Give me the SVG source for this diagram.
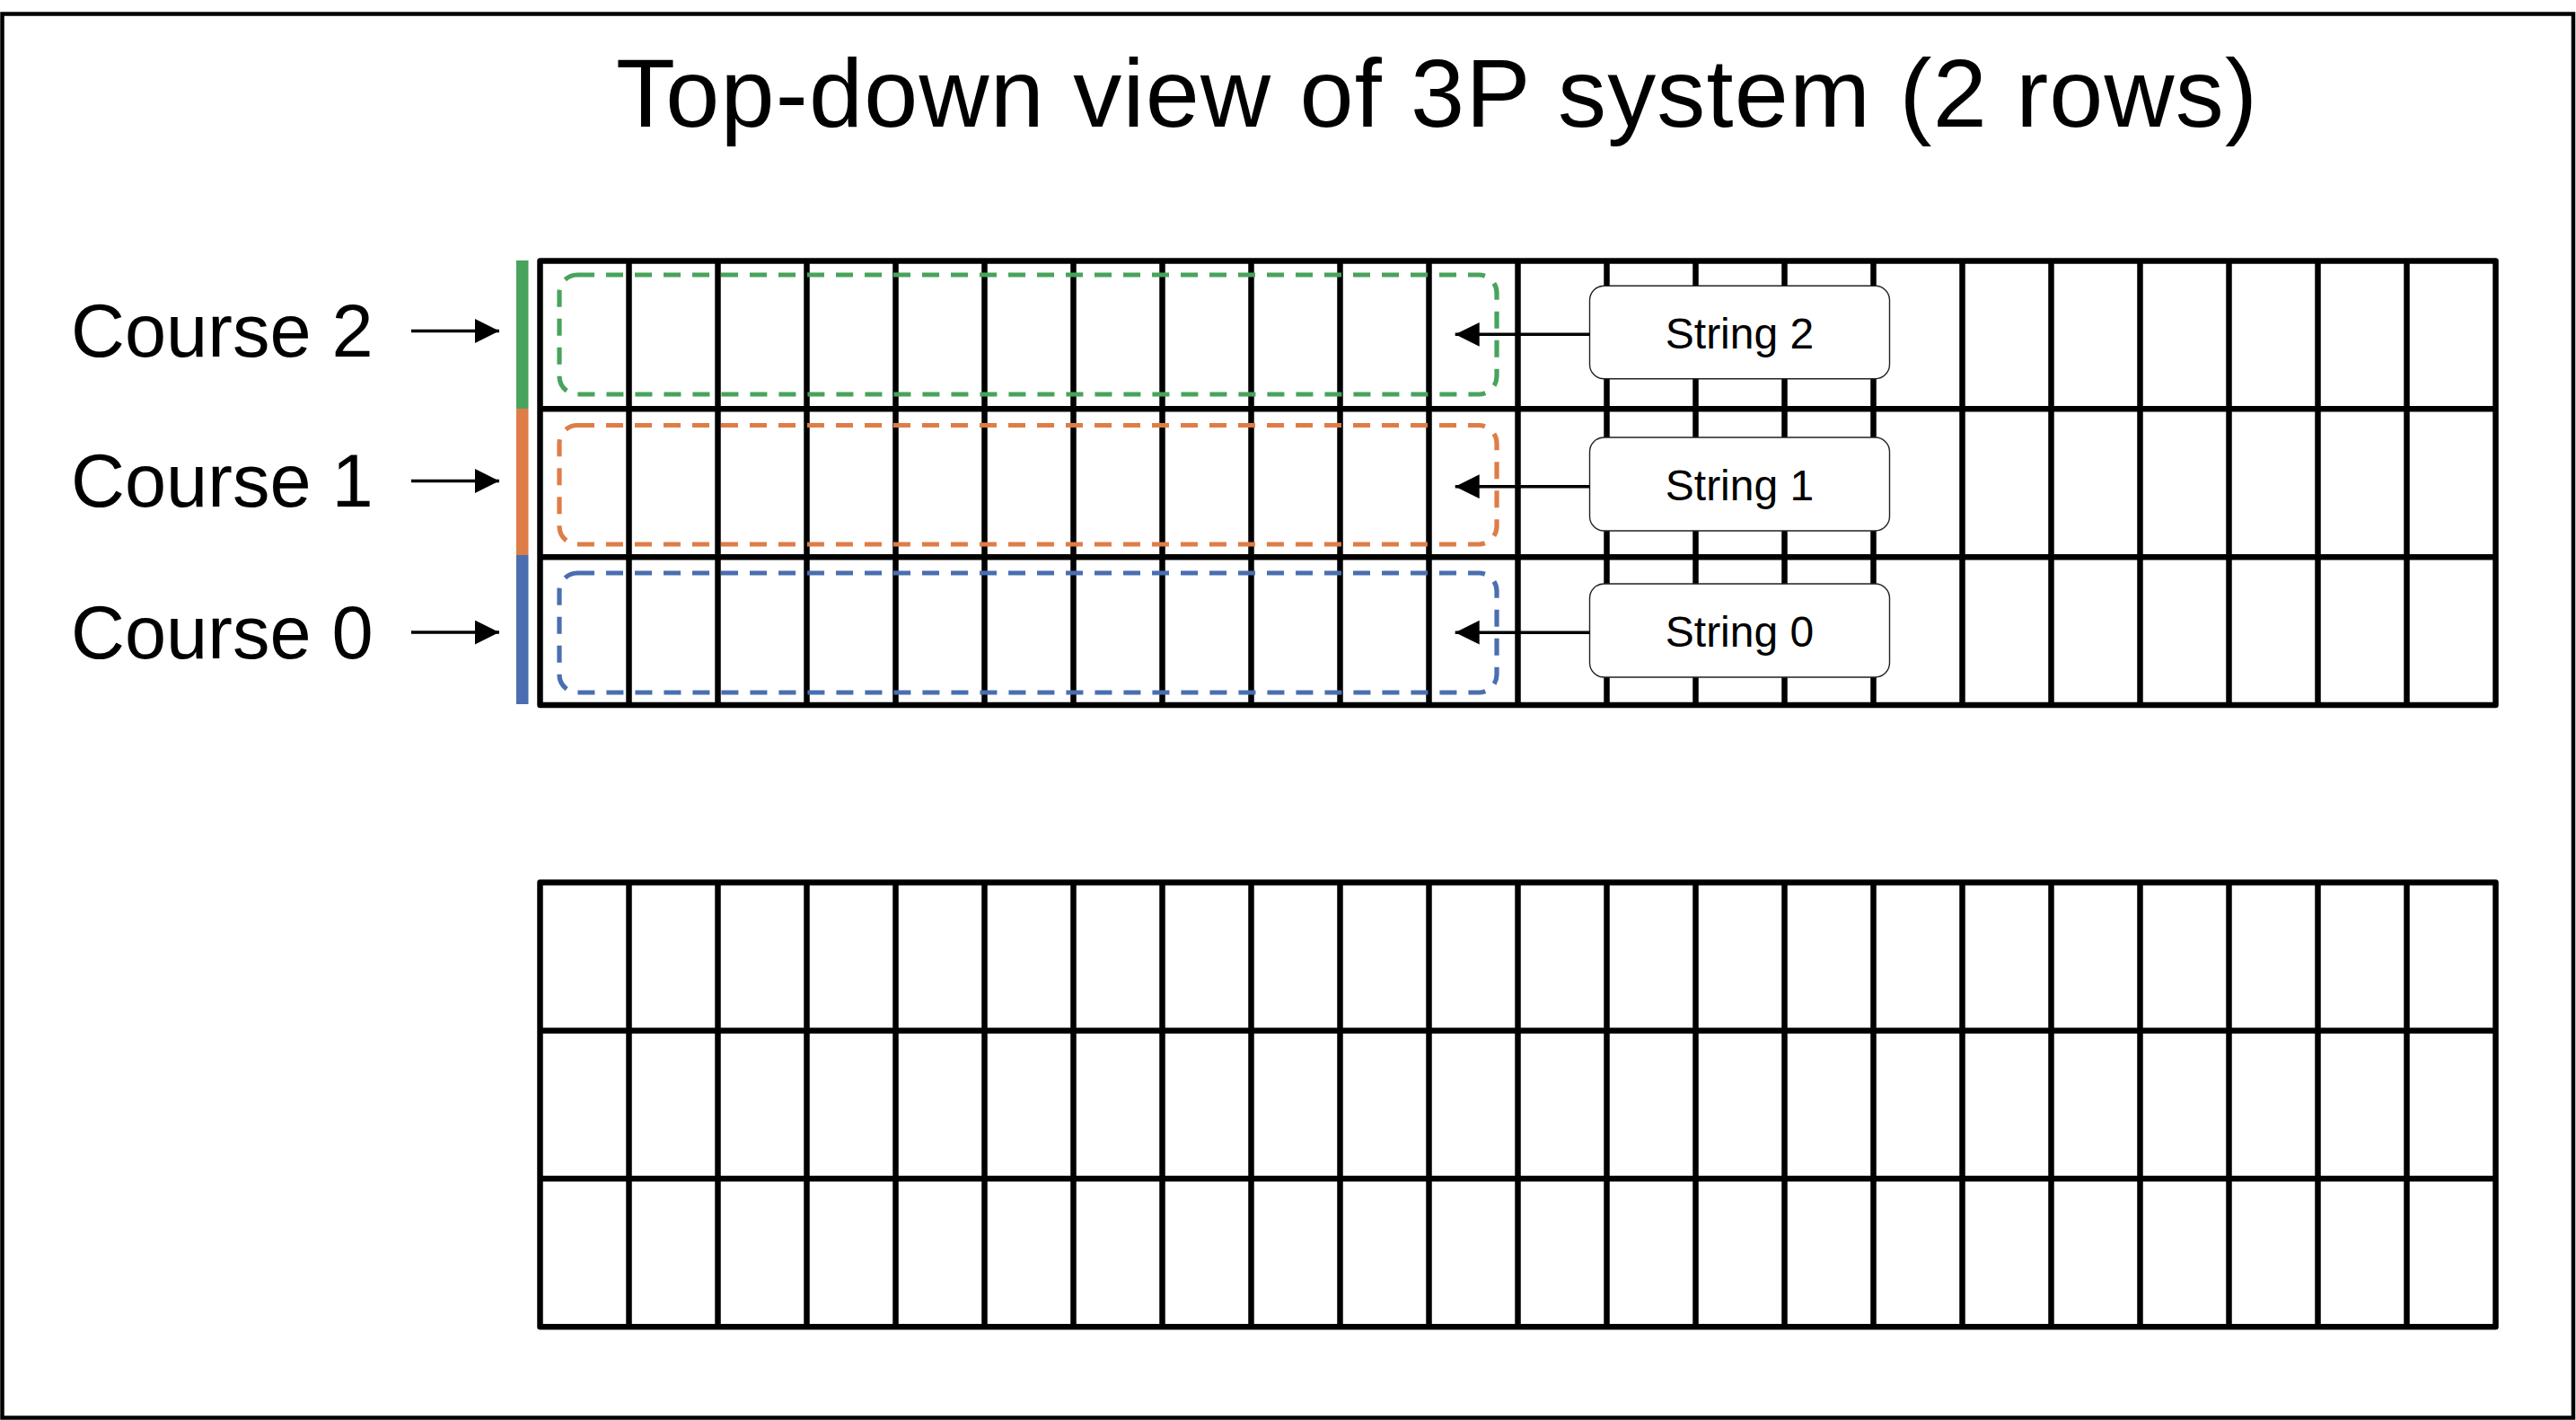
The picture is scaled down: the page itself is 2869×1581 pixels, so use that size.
<svg xmlns="http://www.w3.org/2000/svg" xmlns:xlink="http://www.w3.org/1999/xlink" width="2869" height="1581" viewBox="0 0 2869 1581">
<style>
text{font-family:"Liberation Sans",Arial,Helvetica,sans-serif;fill:#000}
.title{font-size:108px}
.course{font-size:83px}
.str{font-size:48px;text-anchor:middle}
.gl{fill:none;stroke:#000;stroke-width:6.5;stroke-linejoin:round}
.dash{fill:none;stroke-width:5.2;stroke-dasharray:19 13}
.box{fill:#fff;stroke:#222;stroke-width:1.4}
.arrow{stroke:#000;stroke-width:3.5;fill:none;marker-end:url(#ah)}
</style>
<defs>
<marker id="ah" markerUnits="userSpaceOnUse" markerWidth="28" markerHeight="28" refX="27" refY="13.4" orient="auto">
<path d="M0,0 L27,13.4 L0,26.8 Z" fill="#000"/>
</marker>
<g id="grid">
<path class="gl" d="M99 0V494.6M198 0V494.6M297 0V494.6M396 0V494.6M495 0V494.6M594 0V494.6M693 0V494.6M792 0V494.6M891 0V494.6M990 0V494.6M1089 0V494.6M1188 0V494.6M1287 0V494.6M1386 0V494.6M1485 0V494.6M1584 0V494.6M1683 0V494.6M1782 0V494.6M1881 0V494.6M1980 0V494.6M2079 0V494.6M0 164.87H2178M0 329.73H2178"/>
<rect class="gl" x="0" y="0" width="2178" height="494.6"/>
</g>
</defs>
<rect x="0" y="0" width="2869" height="1581" fill="#fff"/>
<rect id="frame" x="2.5" y="15.5" width="2863.5" height="1563" fill="none" stroke="#000" stroke-width="4.5"/>
<text id="title" class="title" x="686" y="140.7" textLength="1828" lengthAdjust="spacing">Top-down view of 3P system (2 rows)</text>
<g id="top-grid"><use xlink:href="#grid" x="601.5" y="290.4"/></g>
<g id="bottom-grid"><use xlink:href="#grid" x="601.5" y="982.6"/></g>
<g id="course-bar">
<rect x="575" y="290" width="13.5" height="165" fill="#48A35C"/>
<rect x="575" y="455" width="13.5" height="163" fill="#DE7D47"/>
<rect x="575" y="618" width="13.5" height="166" fill="#4A6EB0"/>
</g>
<g id="course2-group"><rect class="dash" x="623" y="306" width="1044" height="133" rx="20" stroke="#48A35C"/></g>
<g id="course1-group"><rect class="dash" x="623" y="473.5" width="1044" height="132.5" rx="20" stroke="#DE7D47"/></g>
<g id="course0-group"><rect class="dash" x="623" y="638" width="1044" height="133" rx="20" stroke="#4A6EB0"/></g>
<g id="course2"><text class="course" x="79" y="397">Course 2</text></g>
<g id="course1"><text class="course" x="79" y="564">Course 1</text></g>
<g id="course0"><text class="course" x="79" y="732.5">Course 0</text></g>
<g id="string2"><rect class="box" x="1770.5" y="318.3" width="334" height="103.5" rx="16"/><text class="str" x="1937.5" y="387.5">String 2</text></g>
<g id="string1"><rect class="box" x="1770.5" y="487" width="334" height="104" rx="16"/><text class="str" x="1937.5" y="556.5">String 1</text></g>
<g id="string0"><rect class="box" x="1770.5" y="650" width="334" height="104" rx="16"/><text class="str" x="1937.5" y="719.5">String 0</text></g>
<g id="connectors">
<line class="arrow" x1="458" y1="368.5" x2="556" y2="368.5"/>
<line class="arrow" x1="458" y1="535.5" x2="556" y2="535.5"/>
<line class="arrow" x1="458" y1="704" x2="556" y2="704"/>
<line class="arrow" x1="1770.5" y1="372.3" x2="1620.7" y2="372.3"/>
<line class="arrow" x1="1770.5" y1="541.7" x2="1620.7" y2="541.7"/>
<line class="arrow" x1="1770.5" y1="704.2" x2="1620.7" y2="704.2"/>
</g>
</svg>
